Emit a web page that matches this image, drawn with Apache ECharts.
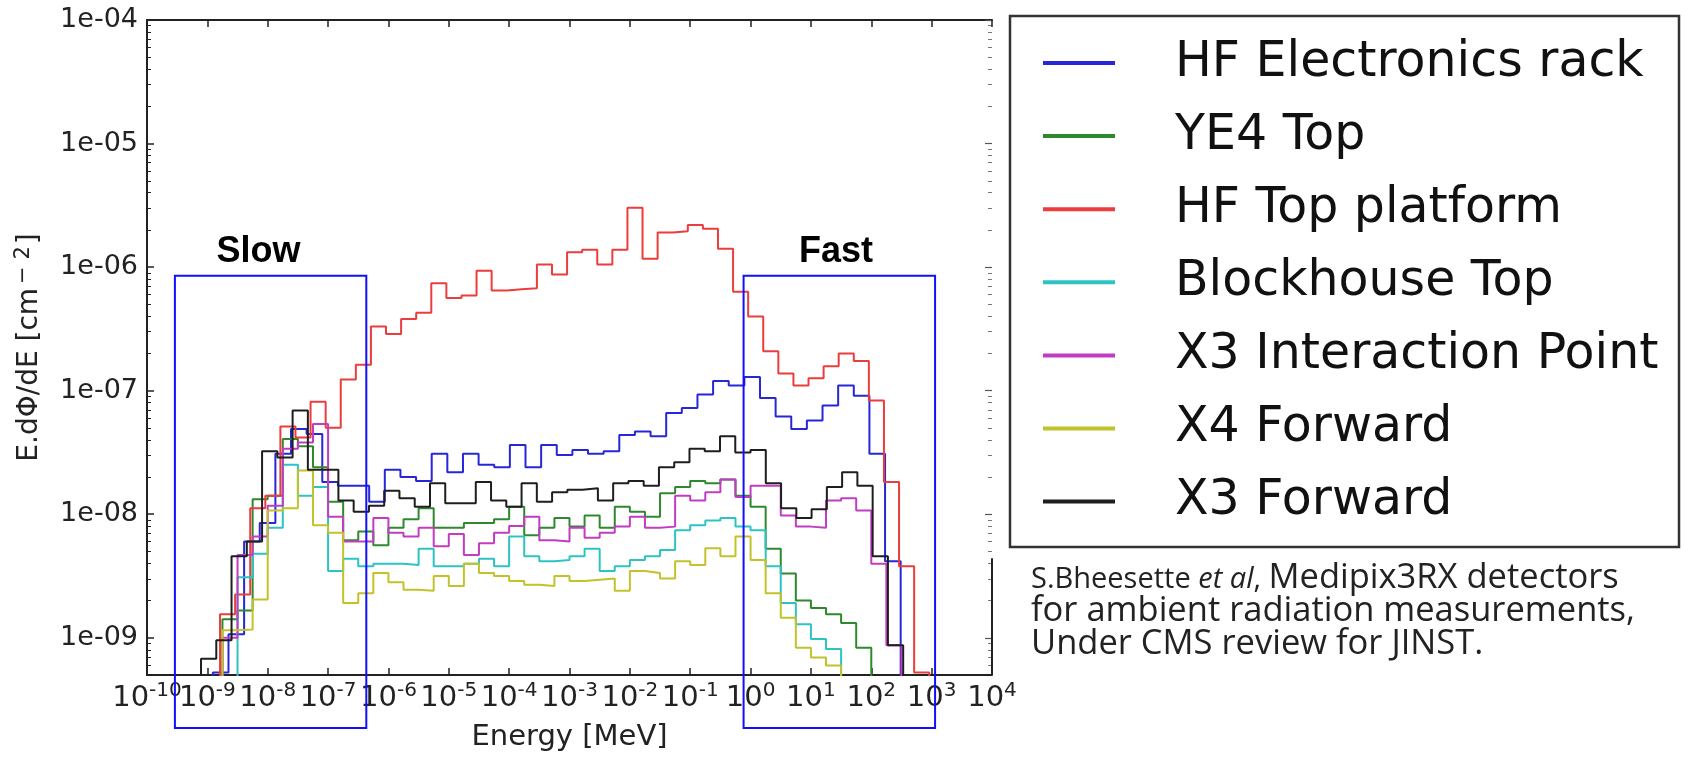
<!DOCTYPE html>
<html><head><meta charset="utf-8">
<script src="https://cdn.jsdelivr.net/npm/echarts@6/dist/echarts.min.js"></script>
<style>html,body{margin:0;padding:0;background:#fff}#c{width:1690px;height:757px}</style>
</head><body><div id="c"></div>
<script>
// ---------------- data ----------------
const seriesNames = ['HF Electronics rack','YE4 Top','HF Top platform','Blockhouse Top','X3 Interaction Point','X4 Forward','X3 Forward'];
const seriesColors = ['#2727d8','#2e892e','#ec3d3d','#2ec3c3','#c23cc2','#c2c22a','#1e1e1e'];
// log10 of the lower edge of the first drawn bin, and bin width in decades
const firstBinEdge = [-8.909, -8.75, -8.79, -8.5, -8.75, -8.75, -9.105];
const binWidthDecades = [0.259, 0.25, 0.25, 0.25, 0.25, 0.25, 0.2529];

const hfElectronicsRack = [5.25e-10,1.07e-9,6.03e-9,8.51e-9,3.09e-8,4.90e-8,4.47e-8,1.82e-8,1.70e-8,1.70e-8,1.26e-8,2.29e-8,2.00e-8,1.86e-8,3.09e-8,2.19e-8,3.09e-8,2.51e-8,2.40e-8,3.63e-8,2.40e-8,3.63e-8,3.02e-8,3.31e-8,3.09e-8,3.24e-8,4.37e-8,4.68e-8,4.27e-8,6.61e-8,7.24e-8,9.33e-8,1.20e-7,1.10e-7,1.29e-7,8.71e-8,6.17e-8,4.90e-8,5.75e-8,7.59e-8,1.10e-7,9.12e-8,3.09e-8,4.17e-9];
const ye4Top = [1.41e-9,1.66e-9,1.32e-8,1.41e-8,4.07e-8,3.55e-8,2.40e-8,1.26e-8,6.17e-9,7.24e-9,5.62e-9,7.76e-9,9.12e-9,1.12e-8,7.76e-9,7.76e-9,8.51e-9,8.51e-9,9.12e-9,1.15e-8,6.76e-9,7.76e-9,9.33e-9,7.94e-9,9.77e-9,7.76e-9,1.15e-8,1.05e-8,9.55e-9,1.48e-8,1.66e-8,1.86e-8,1.78e-8,1.91e-8,1.41e-8,1.15e-8,5.25e-9,3.31e-9,2.00e-9,1.74e-9,1.55e-9,1.32e-9,8.32e-10];
const hfTopPlatform = [1.55e-9,2.24e-9,1.12e-8,1.41e-8,5.13e-8,4.17e-8,8.13e-8,5.01e-8,1.23e-7,1.62e-7,3.31e-7,2.88e-7,3.80e-7,4.27e-7,7.41e-7,5.62e-7,5.89e-7,9.33e-7,6.46e-7,6.61e-7,6.76e-7,1.05e-6,8.71e-7,1.32e-6,1.38e-6,1.05e-6,1.38e-6,3.02e-6,1.17e-6,1.91e-6,1.95e-6,2.19e-6,2.04e-6,1.41e-6,6.31e-7,3.98e-7,2.09e-7,1.38e-7,1.10e-7,1.26e-7,1.58e-7,2.00e-7,1.74e-7,8.32e-8,1.82e-8,3.80e-9,5.25e-10];
const blockhouseTop = [3.09e-9,4.79e-9,7.76e-9,2.51e-8,1.41e-8,1.66e-8,3.47e-9,4.37e-9,3.80e-9,3.98e-9,3.98e-9,3.89e-9,5.25e-9,3.80e-9,3.80e-9,3.98e-9,4.37e-9,3.80e-9,6.61e-9,4.57e-9,4.17e-9,4.27e-9,4.57e-9,5.25e-9,3.47e-9,3.80e-9,4.27e-9,4.57e-9,5.13e-9,7.41e-9,8.13e-9,8.91e-9,9.33e-9,7.94e-9,7.41e-9,3.80e-9,1.91e-9,1.29e-9,9.77e-10,8.13e-10];
const x3InteractionPoint = [1.0e-9,4.68e-9,6.61e-9,1.17e-8,3.39e-8,3.80e-8,5.37e-8,9.55e-9,6.03e-9,6.03e-9,9.33e-9,7.08e-9,6.61e-9,7.76e-9,5.50e-9,6.92e-9,4.68e-9,5.82e-9,7.08e-9,8.04e-9,9.55e-9,6.17e-9,6.03e-9,7.76e-9,6.46e-9,7.08e-9,7.94e-9,9.55e-9,7.76e-9,7.94e-9,1.41e-8,1.29e-8,1.51e-8,1.91e-8,1.38e-8,1.70e-8,1.70e-8,9.77e-9,7.94e-9,7.76e-9,1.29e-8,1.35e-8,1.07e-8,3.98e-9,8.71e-10];
const x4Forward = [1.15e-9,1.17e-9,2.04e-9,1.07e-8,1.12e-8,2.26e-8,8.13e-9,7.08e-9,1.91e-9,2.29e-9,3.35e-9,2.82e-9,2.45e-9,2.40e-9,3.16e-9,2.63e-9,3.98e-9,3.35e-9,3.16e-9,2.88e-9,2.69e-9,2.63e-9,3.16e-9,2.88e-9,2.95e-9,3.02e-9,2.40e-9,3.47e-9,3.35e-9,3.02e-9,4.17e-9,3.89e-9,5.31e-9,4.57e-9,6.61e-9,4.27e-9,2.29e-9,1.45e-9,8.32e-10,6.92e-10,5.96e-10];
const x3Forward = [6.76e-10,9.55e-10,4.57e-9,6.03e-9,3.24e-8,2.88e-8,6.92e-8,2.29e-8,2.29e-8,1.29e-8,1.05e-8,1.17e-8,1.55e-8,1.35e-8,1.15e-8,1.78e-8,1.23e-8,1.23e-8,1.82e-8,1.29e-8,1.15e-8,1.78e-8,1.26e-8,1.51e-8,1.58e-8,1.62e-8,1.29e-8,1.78e-8,1.86e-8,1.70e-8,2.40e-8,2.63e-8,3.39e-8,3.24e-8,4.27e-8,3.16e-8,3.31e-8,1.78e-8,1.12e-8,9.33e-9,1.10e-8,1.66e-8,2.19e-8,1.70e-8,4.57e-9,8.71e-10];
const seriesValues = [hfElectronicsRack, ye4Top, hfTopPlatform, blockhouseTop, x3InteractionPoint, x4Forward, x3Forward];

// axes
const xTickValues = [1e-10,1e-9,1e-8,1e-7,1e-6,1e-5,1e-4,1e-3,1e-2,1e-1,1e0,1e1,1e2,1e3,1e4];
const xTickExponents = ['-10','-9','-8','-7','-6','-5','-4','-3','-2','-1','0','1','2','3','4'];
const yTickValues = [1e-9,1e-8,1e-7,1e-6,1e-5,1e-4];
const yTickLabels = ['1e-09','1e-08','1e-07','1e-06','1e-05','1e-04'];
const xRange = [1e-10, 1e4];
const yRange = [5e-10, 1e-4];

// annotations (data coordinates)
const regionBoxes = [
  {name: 'Slow', eMin: 2.9e-10, eMax: 4.3e-7, top: 8.5e-7, bottom: 1.86e-10, labelE: 7.05e-9, labelY: 1.32e-6},
  {name: 'Fast', eMin: 0.766, eMax: 1140, top: 8.5e-7, bottom: 1.86e-10, labelE: 26.1, labelY: 1.32e-6}
];
const captionLines = ['Medipix3RX detectors','for ambient radiation measurements,','Under CMS review for JINST.'];

// ---------------- build ----------------
const FLOOR = 1e-13;
function histogramPoints(edge0, w, vals) {
  const pts = [[Math.pow(10, edge0), FLOOR]];
  for (let i = 0; i < vals.length; i++) {
    pts.push([Math.pow(10, edge0 + i * w), vals[i]]);
    pts.push([Math.pow(10, edge0 + (i + 1) * w), vals[i]]);
  }
  pts.push([Math.pow(10, edge0 + vals.length * w), FLOOR]);
  return pts;
}
const yMinorTicks = [];
for (let n = -10; n <= -5; n++) for (let m = 2; m <= 9; m++) {
  const v = m * Math.pow(10, n);
  if (v > yRange[0] && v < yRange[1]) yMinorTicks.push(v);
}
const FONT = 'DejaVu Sans';
const AX = '#222';
function idxOf(arr, v) { return arr.findIndex(t => Math.abs(Math.log10(t) - Math.log10(v)) < 1e-6); }
// labels split over two coincident axes so that neighbouring (touching) labels are never auto-hidden
const xLabelsEven = xTickValues.filter((v, i) => i % 2 === 0);
const xLabelsOdd = xTickValues.filter((v, i) => i % 2 === 1);

const chart = echarts.init(document.getElementById('c'), null, {renderer: 'canvas'});
const logX = (extra) => Object.assign({type: 'log', logBase: 10, min: xRange[0], max: xRange[1], splitLine: {show: false}, gridIndex: 0}, extra);
const logY = (extra) => Object.assign({type: 'log', logBase: 10, min: yRange[0], max: yRange[1], splitLine: {show: false}, gridIndex: 0}, extra);
const xLabelCfg = (vals) => ({show: true, margin: 6, showMinLabel: true, showMaxLabel: true, hideOverlap: false, customValues: vals,
  formatter: v => { const i = idxOf(xTickValues, v); return i < 0 ? '' : '{b|10}{s|' + xTickExponents[i] + '}'; },
  rich: {
    b: {fontSize: 29, fontFamily: FONT, color: AX, lineHeight: 32, verticalAlign: 'bottom'},
    s: {fontSize: 20, fontFamily: FONT, color: AX, lineHeight: 22, verticalAlign: 'bottom', padding: [0, 0, 12, 0]}
  }});

const option = {
  animation: false,
  backgroundColor: '#fff',
  grid: {left: 147, right: 698, top: 20, bottom: 77, containLabel: false},
  legend: {
    orient: 'vertical', left: 1043, top: 34, padding: 0,
    icon: 'rect', itemWidth: 72, itemHeight: 4, itemGap: 15.1,
    selectedMode: false,
    lineStyle: {width: 3.5},
    textStyle: {fontSize: 49, fontFamily: FONT, color: '#111', lineHeight: 58, padding: [0, 0, 0, 55]},
    data: seriesNames
  },
  xAxis: [
    logX({position: 'bottom',
      axisLine: {show: true, lineStyle: {color: AX, width: 2}},
      axisTick: {show: true, inside: true, length: 7, lineStyle: {color: AX, width: 1.5}, customValues: xTickValues},
      axisLabel: xLabelCfg(xLabelsEven),
      name: 'Energy [MeV]', nameLocation: 'middle', nameGap: 48,
      nameTextStyle: {fontSize: 29, fontFamily: FONT, color: AX}
    }),
    logX({position: 'top',
      axisLine: {show: true, lineStyle: {color: AX, width: 2}},
      axisTick: {show: true, inside: true, length: 7, lineStyle: {color: AX, width: 1.5}, customValues: xTickValues},
      axisLabel: {show: false}
    }),
    logX({position: 'bottom', offset: 0,
      axisLine: {show: false}, axisTick: {show: false},
      axisLabel: xLabelCfg(xLabelsOdd)
    })
  ],
  yAxis: [
    logY({position: 'left',
      axisLine: {show: true, lineStyle: {color: AX, width: 2}},
      axisTick: {show: true, inside: true, length: 7, lineStyle: {color: AX, width: 1.5}, customValues: yTickValues},
      axisLabel: {show: true, margin: 9, showMinLabel: true, showMaxLabel: true, customValues: yTickValues, fontSize: 27, fontFamily: FONT, color: AX,
        formatter: v => { const i = idxOf(yTickValues, v); return i < 0 ? '' : yTickLabels[i]; }},
      name: '{n|E.d\u03A6/dE [cm}{s|\u2212 2}{n|]}', nameLocation: 'middle', nameGap: 103, nameRotate: 90,
      nameTextStyle: {rich: {
        n: {fontSize: 28, fontFamily: FONT, color: AX, lineHeight: 32, verticalAlign: 'bottom'},
        s: {fontSize: 21, fontFamily: FONT, color: AX, lineHeight: 24, verticalAlign: 'bottom', padding: [0, 2, 10, 4]}
      }}
    }),
    logY({position: 'left',
      axisLine: {show: false},
      axisTick: {show: true, inside: true, length: 4, lineStyle: {color: AX, width: 1}, customValues: yMinorTicks},
      axisLabel: {show: false}
    }),
    logY({position: 'right',
      axisLine: {show: false},
      axisTick: {show: true, inside: true, length: 7, lineStyle: {color: '#555', width: 1.2}, customValues: yTickValues},
      axisLabel: {show: false}
    }),
    logY({position: 'right',
      axisLine: {show: false},
      axisTick: {show: true, inside: true, length: 4, lineStyle: {color: '#777', width: 1}, customValues: yMinorTicks},
      axisLabel: {show: false}
    })
  ],
  series: seriesNames.map((name, s) => ({
    name, type: 'line', xAxisIndex: 0, yAxisIndex: 0,
    symbol: 'none', showSymbol: false, clip: true, silent: true,
    lineStyle: {color: seriesColors[s], width: 2},
    itemStyle: {color: seriesColors[s]},
    data: histogramPoints(firstBinEdge[s], binWidthDecades[s], seriesValues[s])
  }))
};
chart.setOption(option);

// annotations placed through the axes
const toPx = (e, y) => chart.convertToPixel({xAxisIndex: 0, yAxisIndex: 0}, [e, y]);
const graphics = [];
regionBoxes.forEach(b => {
  const p0 = toPx(b.eMin, b.top), p1 = toPx(b.eMax, b.bottom);
  graphics.push({type: 'rect', z: 100, shape: {x: p0[0], y: p0[1], width: p1[0] - p0[0], height: p1[1] - p0[1]},
    style: {fill: null, stroke: '#1010ff', lineWidth: 2}});
  const lp = toPx(b.labelE, b.labelY);
  graphics.push({type: 'text', z: 100, x: lp[0], y: lp[1],
    style: {text: b.name, fontSize: 36, fontWeight: 'bold', fontFamily: 'Liberation Sans', fill: '#000', align: 'center', verticalAlign: 'middle'}});
});
// right spine (visible only in its lower part) and legend frame
const rs0 = toPx(xRange[1], 4.4e-9), rs1 = toPx(xRange[1], yRange[0]);
graphics.push({type: 'line', z: 100, shape: {x1: rs0[0], y1: rs0[1], x2: rs1[0], y2: rs1[1]}, style: {stroke: AX, lineWidth: 2}});
graphics.push({type: 'rect', z: 50, shape: {x: 1010, y: 16, width: 669, height: 531}, style: {fill: null, stroke: '#333', lineWidth: 2.5}});
graphics.push({type: 'text', z: 100, x: 1031, y: 563,
  style: {text: '{a|S.Bheesette }{i|et al}{a|, }{b|' + captionLines[0] + '}\n{b|' + captionLines[1] + '}\n{b|' + captionLines[2] + '}',
    rich: {
      a: {fontSize: 29, fontFamily: 'Open Sans', fill: '#222', lineHeight: 33, verticalAlign: 'bottom', padding: [0,0,2,0]},
      i: {fontSize: 29, fontFamily: 'Open Sans', fontStyle: 'italic', fill: '#222', lineHeight: 33, verticalAlign: 'bottom', padding: [0,0,2,0]},
      b: {fontSize: 34.5, fontFamily: 'Open Sans', fill: '#222', lineHeight: 33, verticalAlign: 'bottom'}
    }}});
chart.setOption({graphic: graphics});
</script>
</body></html>
